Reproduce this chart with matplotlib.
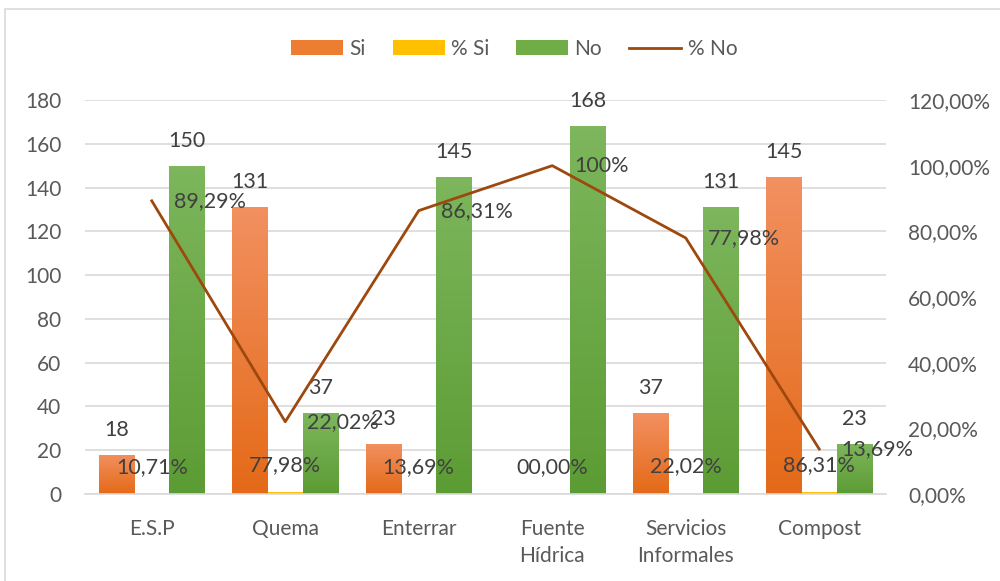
import matplotlib
matplotlib.use('Agg')
import matplotlib.pyplot as plt
import numpy as np
from matplotlib.colors import LinearSegmentedColormap
from matplotlib.patches import Rectangle, Patch
from matplotlib.lines import Line2D

categories = ['E.S.P', 'Quema', 'Enterrar', 'Fuente\nHídrica', 'Servicios\nInformales', 'Compost']
si = [18, 131, 23, 0, 37, 145]
no = [150, 37, 145, 168, 131, 23]
pct_si = [0.1071, 0.7798, 0.1369, 0.0, 0.2202, 0.8631]
pct_no = [0.8929, 0.2202, 0.8631, 1.0, 0.7798, 0.1369]
pct_si_labels = ['10,71%', '77,98%', '13,69%', '00,00%', '22,02%', '86,31%']
pct_no_labels = ['89,29%', '22,02%', '86,31%', '100%', '77,98%', '13,69%']
left_ticks = [0, 20, 40, 60, 80, 100, 120, 140, 160, 180]
right_ticks = [0, 0.2, 0.4, 0.6, 0.8, 1.0, 1.2]
right_labels = ['0,00%', '20,00%', '40,00%', '60,00%', '80,00%', '100,00%', '120,00%']

plt.rcParams['font.family'] = ['Lato', 'DejaVu Sans']
tick_col = '#595959'
lab_col = '#404040'
grid_col = '#D9D9D9'

orange_cm = LinearSegmentedColormap.from_list('o', ['#E46A18', '#F29060'])
green_cm = LinearSegmentedColormap.from_list('g', ['#5C9C34', '#7DB65C'])


def gradient_bars(ax, bars, cmap):
    grad = np.linspace(0, 1, 64).reshape(-1, 1)
    for b in bars:
        x0, w, h = b.get_x(), b.get_width(), b.get_height()
        if h <= 0:
            continue
        im = ax.imshow(grad, extent=[x0, x0 + w, 0, h], origin='lower',
                       aspect='auto', cmap=cmap, zorder=2)
        im.set_clip_path(b)


fig = plt.figure(figsize=(10, 5.81), dpi=100)
fig.patches.append(Rectangle((0.005, -0.01), 1.0, 0.995, transform=fig.transFigure,
                             fill=False, edgecolor='#D9D9D9', linewidth=1.2))
ax = fig.add_axes([0.085, 0.1497, 0.801, 0.6782])
ax2 = ax.twinx()

x = np.arange(len(categories))
w = 0.265
b_si = ax.bar(x - w, si, w, color='#ED7D31', zorder=2)
b_psi = ax.bar(x, pct_si, w, color='#FFC000', zorder=2)
b_no = ax.bar(x + w, no, w, color='#70AD47', zorder=2)
gradient_bars(ax, b_si, orange_cm)
gradient_bars(ax, b_no, green_cm)

ax.set_xlim(-0.5, len(categories) - 0.5)
ax.set_ylim(0, 180)
ax.set_yticks(left_ticks)
ax.grid(axis='y', color=grid_col, linewidth=1.2, zorder=0)
ax.set_axisbelow(True)
ax.set_xticks(x)
ax.set_xticklabels(categories, fontsize=15, color=tick_col, linespacing=1.45)
ax.tick_params(axis='both', length=0, labelsize=15, labelcolor=tick_col)
ax.tick_params(axis='y', pad=17)
ax.tick_params(axis='x', pad=18)
for s in ['top', 'right', 'left']:
    ax.spines[s].set_visible(False)
ax.spines['bottom'].set_color(grid_col)
ax.spines['bottom'].set_linewidth(1.2)

ax2.plot(x, pct_no, color='#9E480E', linewidth=2, zorder=5)
ax2.set_ylim(0, 1.2)
ax2.set_yticks(right_ticks)
ax2.set_yticklabels(right_labels)
ax2.tick_params(axis='y', length=0, labelsize=15, labelcolor=tick_col, pad=16)
for s in ax2.spines.values():
    s.set_visible(False)

fs = 15.5
for b, v in zip(b_si, si):
    if v > 0:
        ax.annotate(str(v), (b.get_x() + b.get_width() / 2, v), xytext=(0, 25),
                    textcoords='offset pixels', ha='center', va='center',
                    fontsize=fs, color=lab_col, zorder=6)
for b, v in zip(b_no, no):
    ax.annotate(str(v), (b.get_x() + b.get_width() / 2, v), xytext=(0, 25),
                textcoords='offset pixels', ha='center', va='center',
                fontsize=fs, color=lab_col, zorder=6)
for b, v, t in zip(b_psi, pct_si, pct_si_labels):
    ax.annotate(t, (b.get_x() + b.get_width() / 2, v), xytext=(0, 27),
                textcoords='offset pixels', ha='center', va='center',
                fontsize=fs, color=lab_col, zorder=6)
for xi, v, t in zip(x, pct_no, pct_no_labels):
    ax2.annotate(t, (xi, v), xytext=(22, 0), textcoords='offset pixels',
                 ha='left', va='center', fontsize=fs, color=lab_col, zorder=6)

handles = [Patch(facecolor='#ED7D31'), Patch(facecolor='#FFC000'),
           Patch(facecolor='#70AD47'), Line2D([0], [0], color='#9E480E', linewidth=2)]
fig.legend(handles, ['Si', '% Si', 'No', '% No'], loc='center', ncol=4,
           bbox_to_anchor=(0.514, 0.916), frameon=False, fontsize=15,
           labelcolor=tick_col, handlelength=2.5, handleheight=0.7,
           columnspacing=1.3, handletextpad=0.3)

fig.savefig('out.png', dpi=100)
plt.close()
